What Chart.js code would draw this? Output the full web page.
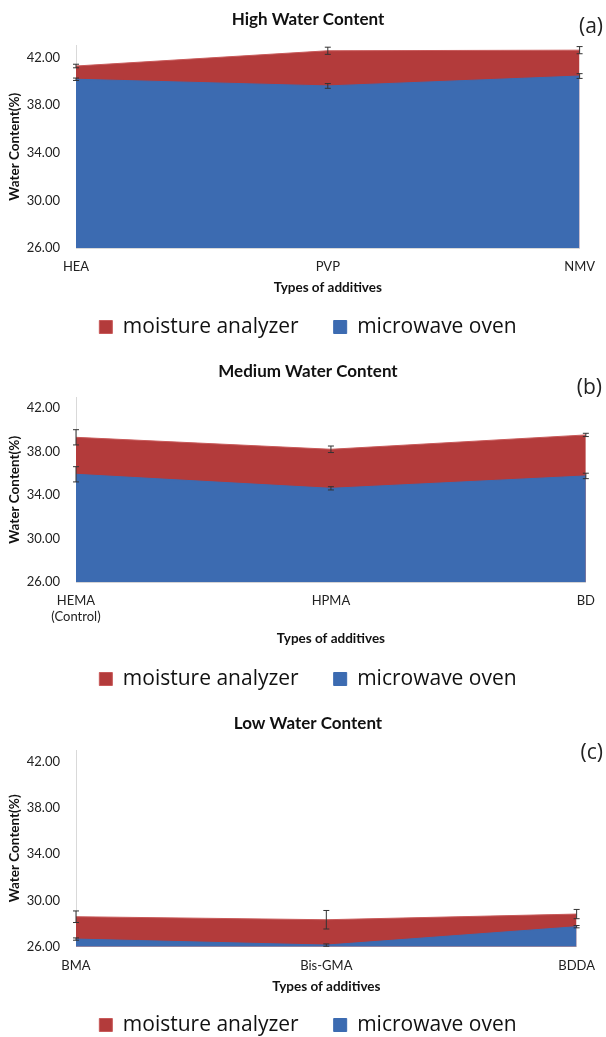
<!DOCTYPE html>
<html>
<head>
<meta charset="utf-8">
<script src="https://cdn.jsdelivr.net/npm/chart.js@4/dist/chart.umd.min.js"></script>
<style>
  html, body { margin: 0; padding: 0; background: #fff; overflow: hidden; width: 606px; height: 1037px; }
  .panel { position: absolute; left: 0; width: 606px; }
  .tag { position: absolute; right: 3px; font-family: "Open Sans", sans-serif; font-size: 21px; color: #222; line-height: 1; }
</style>
</head>
<body>
<div class="panel" id="pa" style="top:0;height:350px"><canvas id="chartA"></canvas></div>
<div class="panel" id="pb" style="top:345px;height:355px"><canvas id="chartB"></canvas></div>
<div class="panel" id="pc" style="top:700px;height:350px"><canvas id="chartC"></canvas></div>
<div class="tag" style="top:15px">(a)</div>
<div class="tag" style="top:376px;right:4px">(b)</div>
<div class="tag" style="top:741px">(c)</div>
<script>
const seriesNames = ["moisture analyzer", "microwave oven"];
const yTicks = [26, 30, 34, 38, 42];
const yMin = 26;
const yMax = 43;

const highLabels = ["HEA", "PVP", "NMV"];
const highMoisture = [41.27, 42.55, 42.6];
const highMicrowave = [40.16, 39.6, 40.43];
const highMoistureErr = [0.15, 0.3, 0.3];
const highMicrowaveErr = [0.1, 0.2, 0.2];

const medLabels = [["HEMA", "(Control)"], "HPMA", "BD"];
const medMoisture = [39.33, 38.23, 39.55];
const medMicrowave = [35.93, 34.64, 35.78];
const medMoistureErr = [0.7, 0.3, 0.15];
const medMicrowaveErr = [0.7, 0.15, 0.25];

const lowLabels = ["BMA", "Bis-GMA", "BDDA"];
const lowMoisture = [28.59, 28.33, 28.82];
const lowMicrowave = [26.66, 26.14, 27.73];
const lowMoistureErr = [0.5, 0.8, 0.4];
const lowMicrowaveErr = [0.1, 0.1, 0.1];

const RED = "#b33b3b";
const BLUE = "#3c6bb1";

// error bars, drawn from each dataset's "errors" array
const errorBars = {
    id: "errorBars",
    afterDatasetsDraw(chart) {
        const ctx = chart.ctx;
        const xs = chart.scales.x;
        const ys = chart.scales.y;
        ctx.save();
        ctx.strokeStyle = "#333";
        ctx.lineWidth = 1;
        chart.data.datasets.forEach(ds => {
            if (!ds.errors) return;
            ds.data.forEach((v, i) => {
                const x = xs.getPixelForValue(i);
                const y1 = ys.getPixelForValue(v - ds.errors[i]);
                const y2 = ys.getPixelForValue(v + ds.errors[i]);
                ctx.beginPath();
                ctx.moveTo(x, y1); ctx.lineTo(x, y2);
                ctx.moveTo(x - 3, y1); ctx.lineTo(x + 3, y1);
                ctx.moveTo(x - 3, y2); ctx.lineTo(x + 3, y2);
                ctx.stroke();
            });
        });
        ctx.restore();
    }
};

function makeChart(canvasId, p) {
    return new Chart(document.getElementById(canvasId), {
        type: "line",
        data: {
            labels: p.labels,
            datasets: [
                {
                    label: seriesNames[0],
                    data: p.moisture,
                    errors: p.moistureErr,
                    backgroundColor: RED,
                    borderColor: "#c85a5a",
                    borderWidth: 1,
                    fill: "start",
                    pointRadius: 0,
                    tension: 0,
                    order: 1
                },
                {
                    label: seriesNames[1],
                    data: p.microwave,
                    errors: p.microwaveErr,
                    backgroundColor: BLUE,
                    borderColor: BLUE,
                    borderWidth: 1,
                    fill: "start",
                    pointRadius: 0,
                    tension: 0,
                    order: 0
                }
            ]
        },
        options: {
            responsive: true,
            maintainAspectRatio: false,
            animation: false,
            layout: { padding: { left: 10, right: 0, top: 0, bottom: p.padBottom } },
            plugins: {
                title: {
                    display: true,
                    text: p.title,
                    color: "#111",
                    font: { family: "Lato", size: 17, weight: "bold" },
                    padding: { top: p.titleTop - 0.6, bottom: p.titleBottom - 0.6 }
                },
                legend: {
                    position: "bottom",
                    labels: {
                        color: "#111",
                        font: { family: "Open Sans", size: 21 },
                        boxWidth: 13,
                        boxHeight: 13,
                        padding: 35,
                        sort: (a, b) => a.datasetIndex - b.datasetIndex
                    }
                },
                tooltip: { enabled: false }
            },
            scales: {
                x: {
                    offset: false,
                    grid: { display: false, drawTicks: false },
                    border: { display: true, color: "#d9d9d9" },
                    ticks: {
                        color: "#222",
                        font: { family: "Lato", size: 13 },
                        padding: 11,
                        maxRotation: 0,
                        autoSkip: false
                    },
                    title: {
                        display: true,
                        text: "Types of additives",
                        color: "#111",
                        font: { family: "Lato", size: 13.5, weight: "bold" },
                        padding: { top: 0, bottom: p.xTitlePad - 0.9 }
                    },
                    afterFit: s => { s.height = p.xHeight; }
                },
                y: {
                    min: yMin,
                    max: yMax,
                    grid: { display: false, drawTicks: false },
                    border: { display: true, color: "#d9d9d9" },
                    afterBuildTicks: s => { s.ticks = yTicks.map(v => ({ value: v })); },
                    ticks: {
                        color: "#222",
                        font: { family: "Lato", size: 13 },
                        padding: 16,
                        callback: v => v.toFixed(2)
                    },
                    title: {
                        display: true,
                        text: "Water Content(%)",
                        color: "#111",
                        font: { family: "Lato", size: 13.5, weight: "bold" },
                        padding: { top: -3, bottom: 0 }
                    },
                    afterFit: s => { s.width = 66; }
                },
                // empty right axis, only to keep the plot's right edge
                y2: {
                    position: "right",
                    display: true,
                    min: yMin,
                    max: yMax,
                    grid: { display: false, drawTicks: false },
                    border: { display: false },
                    ticks: { display: false },
                    afterFit: s => { s.width = p.rightGap; }
                }
            }
        },
        plugins: [errorBars]
    });
}

makeChart("chartA", {
    title: "High Water Content",
    labels: highLabels,
    moisture: highMoisture, microwave: highMicrowave,
    moistureErr: highMoistureErr, microwaveErr: highMicrowaveErr,
    titleTop: 10.4, titleBottom: 15.8,
    xHeight: 33.5, xTitlePad: -13.7, padBottom: 2.5, rightGap: 17
});

makeChart("chartB", {
    title: "Medium Water Content",
    labels: medLabels,
    moisture: medMoisture, microwave: medMicrowave,
    moistureErr: medMoistureErr, microwaveErr: medMicrowaveErr,
    titleTop: 17.1, titleBottom: 16.1,
    xHeight: 51.2, xTitlePad: -12.7, padBottom: 0.5, rightGap: 12
});

makeChart("chartC", {
    title: "Low Water Content",
    labels: lowLabels,
    moisture: lowMoisture, microwave: lowMicrowave,
    moistureErr: lowMoistureErr, microwaveErr: lowMicrowaveErr,
    titleTop: 14.4, titleBottom: 16.4,
    xHeight: 32.8, xTitlePad: -14.7, padBottom: 4.5, rightGap: 18
});
</script>
</body>
</html>
